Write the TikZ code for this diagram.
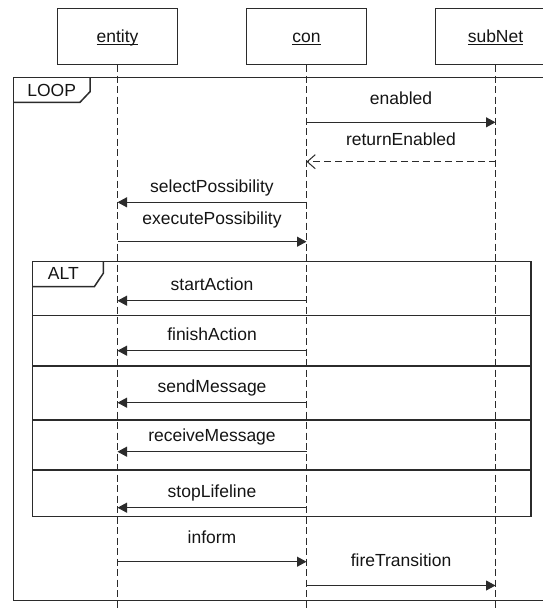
\documentclass[tikz,border=0pt]{standalone}
\usepackage{fontspec}
\setmainfont{Liberation Sans}
\usetikzlibrary{arrows.meta}
\definecolor{ink}{HTML}{2B2B2B}
\definecolor{txt}{HTML}{141414}
% underlined lifeline title, rule at a fixed depth below the baseline
\newsavebox\ulbox
\newcommand\ulabel[1]{\sbox\ulbox{#1}\rlap{\raisebox{-2.4pt}[0pt][0pt]{\rule{\wd\ulbox}{0.9pt}}}\usebox\ulbox}

\begin{document}
\begin{tikzpicture}[x=1pt,y=-1pt,
  font=\fontsize{17.5}{21}\selectfont, text=txt,
  lifebox/.style={draw=ink, line width=1pt, minimum width=120pt,
    minimum height=56.4pt, inner sep=0pt, text height=11pt, text depth=0pt},
  lifeline/.style={draw=ink, line width=1pt, dash pattern=on 7pt off 3.5pt},
  frame/.style={draw=ink, line width=1.5pt},
  msg/.style={draw=ink, line width=1pt, -{Triangle[length=9.5pt,width=10pt]}},
  reply/.style={draw=ink, line width=1pt, dash pattern=on 7pt off 4pt,
    -{Straight Barb[length=8pt,width=14pt]}},
  msglabel/.style={anchor=base, inner sep=0pt},
  tag/.style={anchor=base, inner sep=0pt}]

\useasboundingbox (0,0) rectangle (543,608);
\clip (0,0) rectangle (543,608);

% lifeline heads
\node[lifebox] (entity) at (117.5,36.5) {\ulabel{entity}};
\node[lifebox] (con)    at (306.5,36.5) {\ulabel{con}};
\node[lifebox] (subNet) at (495.5,36.5) {\ulabel{subNet}};

% lifelines
\coordinate (entity-end) at (entity.south |- 0,612);
\coordinate (con-end)    at (con.south |- 0,612);
\coordinate (subNet-end) at (subNet.south |- 0,612);
\draw[lifeline] (entity.south) -- (entity-end);
\draw[lifeline] (con.south) -- (con-end);
\draw[lifeline] (subNet.south) -- (subNet-end);

% LOOP fragment
\draw[frame] (13.3,77.7) rectangle (560,600.3);
\draw[frame] (13.3,102.3) -- (80,102.3) -- (90,91.7) -- (90,77.7);
\node[tag] (loop) at (51.7,96.2) {LOOP};

% ALT fragment with its operand separators
\draw[frame] (32.3,261.7) rectangle (531,516.7);
\draw[frame] (32.3,286.7) -- (94.3,286.7) -- (103.3,273.3) -- (103.3,261.7);
\node[tag] (alt) at (63.3,279.5) {ALT};
\foreach \yy in {315.7,366,420,470}
  \draw[frame] (32.3,\yy) -- (531,\yy);

% messages
\node[msglabel] (l1) at (401,104.3) {enabled};
\draw[msg] (con |- 0,122.3) -- (subNet |- 0,122.3);

\node[msglabel] (l2) at (401,145) {returnEnabled};
\draw[reply] (subNet |- 0,161.7) -- (con |- 0,161.7);

\node[msglabel] (l3) at (212,192.3) {selectPossibility};
\draw[msg] (con |- 0,202.3) -- (entity |- 0,202.3);

\node[msglabel] (l4) at (212,224.3) {executePossibility};
\draw[msg] (entity |- 0,241.7) -- (con |- 0,241.7);

\node[msglabel] (l5) at (212,290.3) {startAction};
\draw[msg] (con |- 0,300.7) -- (entity |- 0,300.7);

\node[msglabel] (l6) at (212,340) {finishAction};
\draw[msg] (con |- 0,350.7) -- (entity |- 0,350.7);

\node[msglabel] (l7) at (212,392) {sendMessage};
\draw[msg] (con |- 0,402.7) -- (entity |- 0,402.7);

\node[msglabel] (l8) at (212,441.7) {receiveMessage};
\draw[msg] (con |- 0,451.7) -- (entity |- 0,451.7);

\node[msglabel] (l9) at (212,497) {stopLifeline};
\draw[msg] (con |- 0,507.7) -- (entity |- 0,507.7);

\node[msglabel] (l10) at (212,543.7) {inform};
\draw[msg] (entity |- 0,561.7) -- (con |- 0,561.7);

\node[msglabel] (l11) at (401,566.5) {fireTransition};
\draw[msg] (con |- 0,585.5) -- (subNet |- 0,585.5);
\end{tikzpicture}
\end{document}
